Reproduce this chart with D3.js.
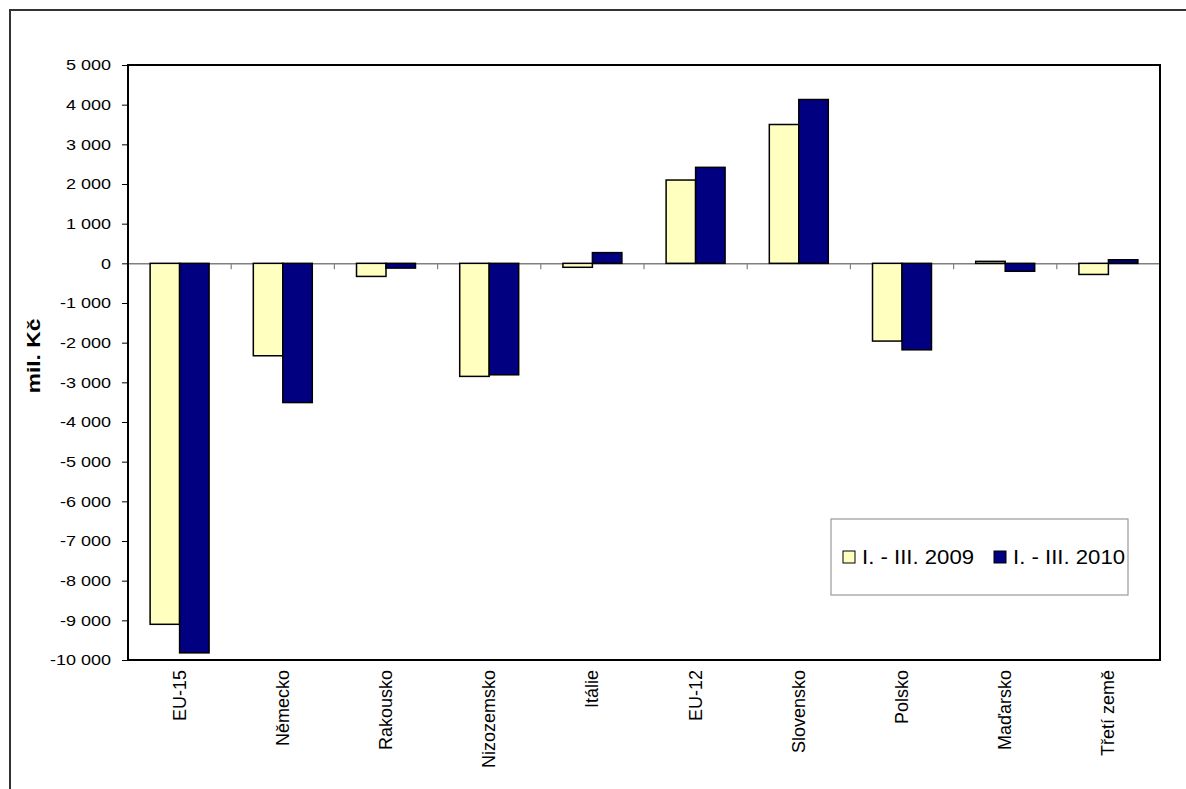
<!DOCTYPE html>
<html><head><meta charset="utf-8">
<script src="https://cdn.jsdelivr.net/npm/d3@7"></script>
<style>body{margin:0;background:#fff;} svg{display:block;font-family:"Liberation Sans",Arial,sans-serif;}</style>
</head><body>
<svg id="c" width="1186" height="789"></svg>
<script>
const categories = ["EU-15","Německo","Rakousko","Nizozemsko","Itálie","EU-12","Slovensko","Polsko","Maďarsko","Třetí země"];
const series2009 = [-9100,-2330,-330,-2850,-100,2100,3500,-1960,50,-280];
const series2010 = [-9820,-3510,-120,-2810,270,2420,4130,-2180,-200,90];
const seriesNames = ["I. - III. 2009","I. - III. 2010"];
const seriesColors = ["#FFFFC0","#000080"];
const yTicks = [5000,4000,3000,2000,1000,0,-1000,-2000,-3000,-4000,-5000,-6000,-7000,-8000,-9000,-10000];
const yTitle = "mil. Kč";

const svg = d3.select("#c");
const L=128, R=1160, T=65, B=660;

function stretch(sel, f){
  sel.each(function(){
    const w = this.getComputedTextLength();
    d3.select(this).attr("textLength", w*f).attr("lengthAdjust","spacingAndGlyphs");
  });
}

// outer frame
svg.append("rect").attr("x",10).attr("y",10).attr("width",1250).attr("height",900)
  .attr("fill","none").attr("stroke","#333").attr("stroke-width",2);

const x = d3.scaleBand().domain(categories).range([L,R]).paddingInner(0).paddingOuter(0);
const gapFrac = 1.5/3.5;
const x1 = d3.scaleBand().domain([0,1]).range([x.bandwidth()*gapFrac/2, x.bandwidth()*(1-gapFrac/2)]);
const y = d3.scaleLinear().domain([-10000,5000]).range([B,T]);

const fmt = v => d3.format(",")(v).replace(/,/g," ").replace("−","-");

// y axis
const yAxis = d3.axisLeft(y).tickValues(yTicks).tickSize(6).tickSizeOuter(0).tickFormat(fmt);
const gy = svg.append("g").attr("transform",`translate(${L},0)`).call(yAxis);
gy.selectAll("text").attr("font-size",15).attr("fill","#000").attr("x",-17)
  .attr("font-family","Liberation Sans, Arial, sans-serif");
stretch(gy.selectAll("text"), 1.2);
gy.selectAll("line").attr("stroke","#000");
gy.select(".domain").remove();

// zero line and category ticks
const data = categories.map((c,i)=>({c, v:[series2009[i],series2010[i]]}));
const gx = svg.append("g").attr("transform",`translate(0,${y(0)})`)
  .call(d3.axisBottom(x).tickSize(0).tickFormat(""));
gx.select(".domain").attr("stroke","#808080").attr("stroke-width",1.5);
gx.selectAll(".tick").remove();
svg.append("g").selectAll("line").data(categories.slice(1)).join("line")
  .attr("x1",d=>x(d)).attr("x2",d=>x(d)).attr("y1",y(0)).attr("y2",y(0)+6)
  .attr("stroke","#808080").attr("stroke-width",1.2);

// bars
const gBars = svg.append("g");
data.forEach(d=>{
  d.v.forEach((v,k)=>{
    gBars.append("rect")
      .attr("x", x(d.c)+x1(k))
      .attr("y", y(Math.max(0,v)))
      .attr("width", x1.bandwidth())
      .attr("height", Math.abs(y(v)-y(0)))
      .attr("fill", seriesColors[k]).attr("stroke","#000").attr("stroke-width",1.5);
  });
});

// plot border
svg.append("rect").attr("x",L).attr("y",T).attr("width",R-L).attr("height",B-T)
  .attr("fill","none").attr("stroke","#000").attr("stroke-width",2);

// category labels
svg.append("g").selectAll("text").data(categories).join("text")
  .attr("transform",d=>`translate(${x(d)+x.bandwidth()/2+6},${B+10}) rotate(-90)`)
  .attr("text-anchor","end").attr("font-size",18).attr("fill","#000").text(d=>d);

// y title
const yt = svg.append("text").attr("transform",`translate(40,356) rotate(-90)`)
  .attr("text-anchor","middle").attr("font-size",19).attr("font-weight","bold").text(yTitle);
stretch(yt, 1.2);

// legend
const lg = svg.append("g");
lg.append("rect").attr("x",831).attr("y",519).attr("width",297).attr("height",76)
  .attr("fill","#fff").attr("stroke","#999").attr("stroke-width",1.2);
const legX = [843, 994];
seriesNames.forEach((n,k)=>{
  lg.append("rect").attr("x",legX[k]).attr("y",551).attr("width",12).attr("height",12)
    .attr("fill",seriesColors[k]).attr("stroke","#000").attr("stroke-width",1);
  const t = lg.append("text").attr("x",legX[k]+19).attr("y",564).attr("font-size",21).text(n);
  stretch(t, 1.055);
});
</script>
</body></html>
